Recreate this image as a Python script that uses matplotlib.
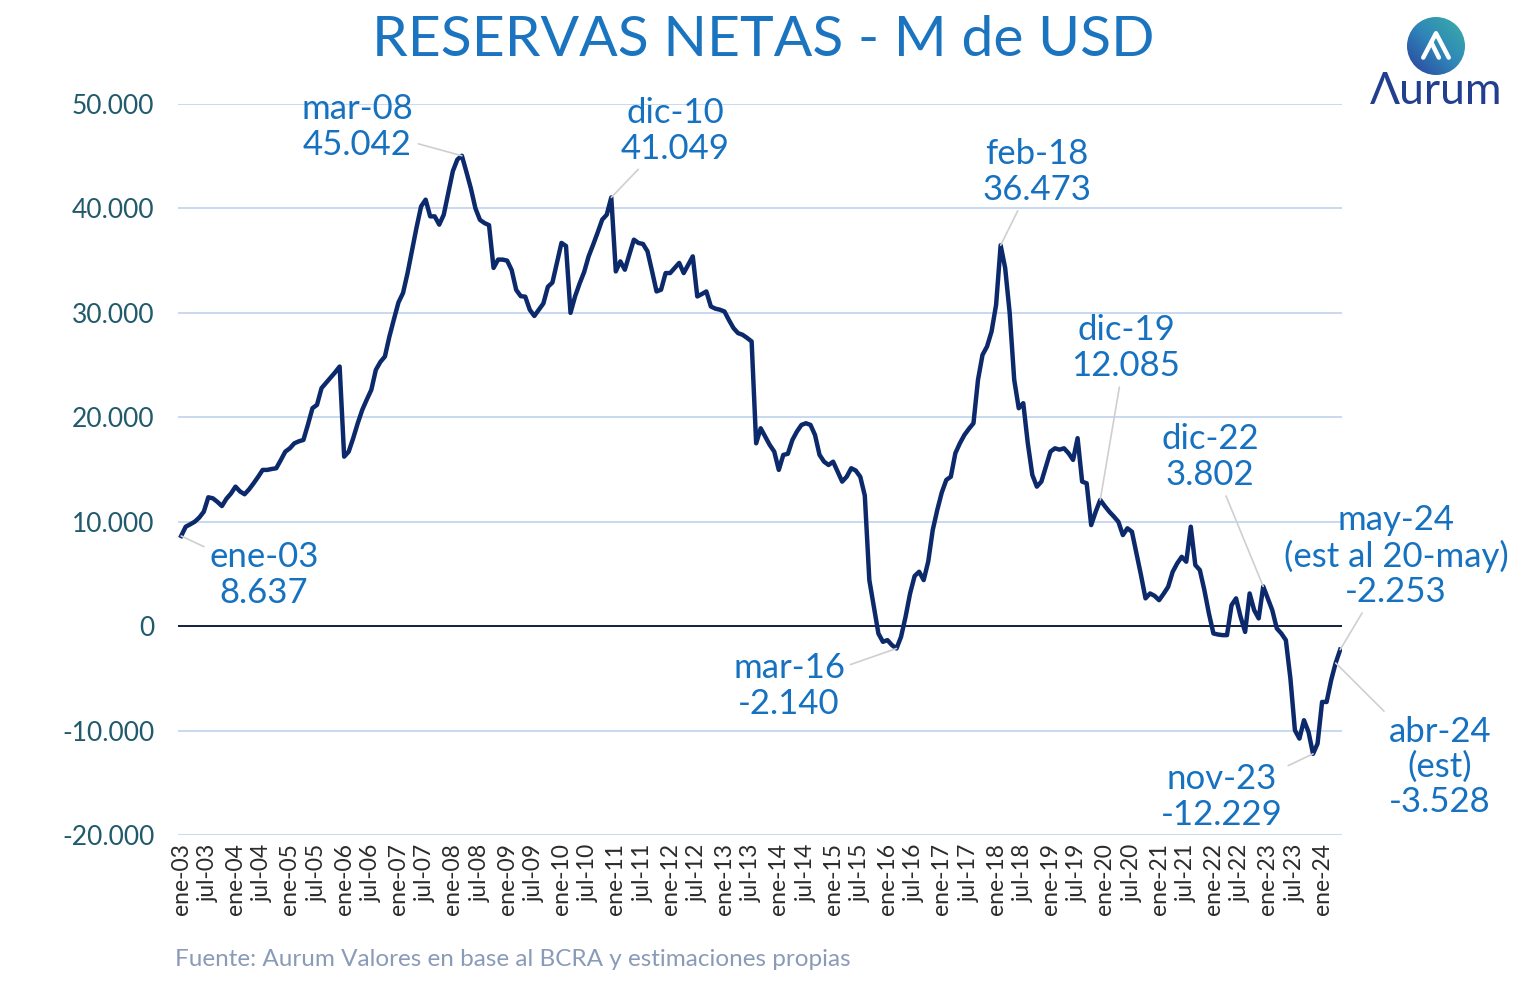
import numpy as np
import pandas as pd
import matplotlib
matplotlib.use("Agg")
import matplotlib.pyplot as plt
from matplotlib.patches import Circle

plt.rcParams['font.family'] = ['Lato', 'DejaVu Sans']

# Reservas netas, millones de USD, mensual ene-03 .. may-24
y2003 = [8637, 9520, 9750, 10000, 10400, 10960, 12340, 12240, 11900, 11500, 12200, 12700]
y2004 = [13360, 12900, 12630, 13100, 13680, 14300, 14960, 14960, 15050, 15120, 15900, 16710]
y2005 = [17030, 17510, 17700, 17830, 19300, 20870, 21190, 22790, 23300, 23800, 24300, 24860]
y2006 = [16230, 16710, 18000, 19430, 20710, 21700, 22630, 24540, 25300, 25820, 27740, 29400]
y2007 = [31000, 31900, 33800, 36000, 38200, 40200, 40840, 39240, 39240, 38450, 39400, 41500]
y2008 = [43560, 44680, 45042, 43500, 41900, 40000, 38900, 38600, 38400, 34300, 35100, 35100]
y2009 = [35000, 34100, 32200, 31600, 31550, 30300, 29700, 30300, 30900, 32500, 32900, 34800]
y2010 = [36700, 36400, 30000, 31570, 32800, 33900, 35410, 36530, 37700, 38930, 39400, 41049]
y2011 = [33970, 34930, 34130, 35600, 37010, 36690, 36600, 35890, 34000, 32050, 32220, 33810]
y2012 = [33810, 34300, 34780, 33810, 34600, 35410, 31570, 31800, 32050, 30610, 30400, 30300]
y2013 = [30130, 29300, 28540, 28060, 27900, 27600, 27260, 17510, 18950, 18150, 17350, 16710]
y2014 = [14960, 16400, 16500, 17830, 18630, 19270, 19430, 19270, 18310, 16400, 15750, 15430]
y2015 = [15750, 14800, 13840, 14310, 15120, 14900, 14300, 12500, 4410, 1850, -700, -1500]
y2016 = [-1340, -1820, -2140, -1030, 890, 3130, 4800, 5210, 4410, 6170, 9200, 11120]
y2017 = [12800, 14000, 14310, 16560, 17510, 18310, 18900, 19430, 23590, 25980, 26780, 28220]
y2018 = [30780, 36473, 34300, 29980, 23590, 20870, 21350, 17510, 14480, 13360, 13840, 15270]
y2019 = [16710, 17030, 16900, 17030, 16560, 15920, 18000, 13840, 13680, 9680, 10960, 12085]
y2020 = [11500, 10960, 10500, 10000, 8720, 9370, 9040, 6970, 4890, 2660, 3130, 2900]
y2021 = [2490, 3100, 3770, 5200, 6010, 6640, 6170, 9520, 5850, 5370, 3450, 1220]
y2022 = [-700, -800, -860, -860, 2010, 2660, 890, -550, 3130, 1530, 740, 3802]
y2023 = [2660, 1530, -220, -700, -1340, -5000, -9970, -10770, -9010, -10130, -12229, -11250]
y2024 = [-7260, -7260, -5180, -3528, -2253]

values = (y2003 + y2004 + y2005 + y2006 + y2007 + y2008 + y2009 + y2010 + y2011 + y2012
          + y2013 + y2014 + y2015 + y2016 + y2017 + y2018 + y2019 + y2020 + y2021
          + y2022 + y2023 + y2024)
fechas = pd.date_range('2003-01-01', periods=len(values), freq='MS')

meses = ['ene', 'feb', 'mar', 'abr', 'may', 'jun', 'jul', 'ago', 'sep', 'oct', 'nov', 'dic']
tick_labels = [f"{meses[d.month - 1]}-{d.strftime('%y')}" for d in fechas[::6]]

# anotaciones: (fecha, texto, posición del texto en píxeles de la figura)
anotaciones = [
    ('2003-01', 'ene-03\n8.637', (264, 575)),
    ('2008-03', 'mar-08\n45.042', (357, 127)),
    ('2010-12', 'dic-10\n41.049', (675, 131)),
    ('2016-03', 'mar-16\n-2.140', (789, 686)),
    ('2018-02', 'feb-18\n36.473', (1037, 172)),
    ('2019-12', 'dic-19\n12.085', (1126, 348)),
    ('2022-12', 'dic-22\n3.802', (1210, 457)),
    ('2023-11', 'nov-23\n-12.229', (1222, 797)),
    ('2024-05', 'may-24\n(est al 20-may)\n-2.253', (1396, 556)),
    ('2024-04', 'abr-24\n(est)\n-3.528', (1440, 767)),
]

W, H = 1526, 999
fig = plt.figure(figsize=(W / 100, H / 100), dpi=100)
ax = fig.add_axes([178 / W, 1 - 835 / H, (1342 - 178) / W, (835 - 104) / H])

x = np.arange(len(values))
ax.plot(x, values, color='#0c2a6b', lw=3.2, solid_joinstyle='round', zorder=3)

ax.set_ylim(-20000, 50000)
ax.set_xlim(-0.7, len(values) - 0.6)
ax.set_yticks(np.arange(-20000, 50001, 10000))
ax.set_yticklabels([f"{v:,.0f}".replace(',', '.') for v in np.arange(-20000, 50001, 10000)],
                   color='#215a6c', fontsize=19)
ax.grid(axis='y', color='#c8d8f0', lw=1.4)
ax.set_axisbelow(True)
ax.axhline(0, color='#14223f', lw=1.4, zorder=2)
ax.set_xticks(x[::6])
ax.set_xticklabels(tick_labels, rotation=90, fontsize=16.5, color='#2b2b2b')
ax.tick_params(length=0)
ax.tick_params(axis='x', pad=6)
ax.tick_params(axis='y', pad=17)
for s in ax.spines.values():
    s.set_visible(False)

for fecha, texto, (tx, ty) in anotaciones:
    i = fechas.get_loc(pd.Timestamp(fecha + '-01'))
    ax.annotate(texto, xy=(x[i], values[i]), xytext=(tx, H - ty), textcoords='figure pixels',
                ha='center', va='center', fontsize=25, color='#1672c0', linespacing=1.12,
                arrowprops=dict(arrowstyle='-', color='#cfcfcf', lw=1.2, shrinkA=2, shrinkB=0))

fig.text(763 / W, 1 - 41 / H, 'RESERVAS NETAS - M de USD', ha='center', va='center',
         fontsize=41, color='#1b74bf')
fig.text(175 / W, 1 - 960 / H, 'Fuente: Aurum Valores en base al BCRA y estimaciones propias',
         ha='left', va='center', fontsize=17.5, color='#8a9bb8')

# logo
lax = fig.add_axes([(1436 - 29) / W, 1 - (46 + 29) / H, 58 / W, 58 / H])
lax.set_xlim(0, 1)
lax.set_ylim(0, 1)
lax.axis('off')
grad = np.linspace(0, 1, 100)
gx, gy = np.meshgrid(grad, grad)
img = lax.imshow(gx + gy, extent=(0, 1, 0, 1), origin='lower', cmap=matplotlib.colors.LinearSegmentedColormap.from_list('g', ['#2b3f9e', '#2f86b8', '#3bb0a8']))
img.set_clip_path(Circle((0.5, 0.5), 0.5, transform=lax.transAxes))
lax.plot([0.28, 0.5, 0.72], [0.3, 0.72, 0.3], color='white', lw=3.2, solid_capstyle='round', solid_joinstyle='round')
lax.plot([0.42, 0.55], [0.56, 0.3], color='white', lw=3.2, solid_capstyle='round')
fig.text(1436 / W, 1 - 91 / H, 'Λurum', ha='center', va='center', fontsize=32, color='#223f8f')

fig.savefig('out.png', dpi=100)
